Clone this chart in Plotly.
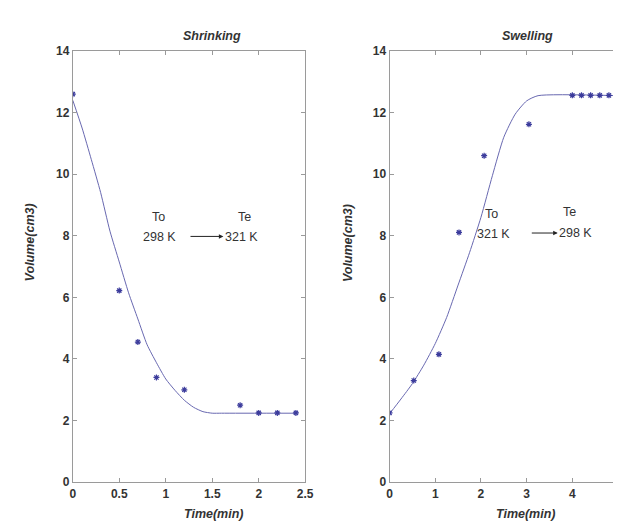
import plotly.graph_objects as go

# Shrinking: experimental points and model curve
shrink_t = [0, 0.5, 0.7, 0.9, 1.2, 1.8, 2.0, 2.2, 2.4]
shrink_v = [12.6, 6.22, 4.55, 3.4, 3.0, 2.5, 2.25, 2.25, 2.25]
shrink_curve_t = [0, 0.1, 0.2, 0.3, 0.4, 0.5, 0.6, 0.7, 0.8, 0.9, 1.0, 1.1, 1.2, 1.3, 1.4, 1.5, 1.6, 2.4]
shrink_curve_v = [12.4, 11.5, 10.47, 9.4, 8.15, 7.15, 6.15, 5.3, 4.46, 3.88, 3.35, 2.98, 2.66, 2.43, 2.29, 2.24, 2.24, 2.24]

# Swelling: experimental points and model curve
swell_t = [0, 0.53, 1.08, 1.52, 2.07, 3.05, 4.0, 4.2, 4.4, 4.6, 4.8]
swell_v = [2.25, 3.3, 4.15, 8.11, 10.6, 11.62, 12.56, 12.56, 12.56, 12.56, 12.56]
swell_curve_t = [0, 0.25, 0.5, 0.75, 1.0, 1.25, 1.5, 1.75, 2.0, 2.25, 2.5, 2.75, 3.0, 3.25, 5.0]
swell_curve_v = [2.22, 2.7, 3.2, 3.8, 4.5, 5.35, 6.4, 7.45, 8.6, 9.95, 11.2, 11.95, 12.38, 12.55, 12.55]

x1_ticks = [0, 0.5, 1, 1.5, 2, 2.5]
x1_labels = ["0", "0.5", "1", "1.5", "2", "2.5"]
x2_ticks = [0, 1, 2, 3, 4, 5]
x2_labels = ["0", "1", "2", "3", "4", "5"]
y_ticks = [0, 2, 4, 6, 8, 10, 12, 14]
y_labels = ["0", "2", "4", "6", "8", "10", "12", "14"]

W, H = 621, 524
line_col = "#6868b0"
mark_col = "#3c3c9c"
axis_col = "#9a9a9a"
text_col = "#333333"
FONT = "Liberation Sans, Arial, sans-serif"

mk = dict(symbol="asterisk-open", size=5, color=mark_col, line=dict(color=mark_col, width=1.2))

fig = go.Figure()
fig.add_trace(go.Scatter(x=shrink_curve_t, y=shrink_curve_v, mode="lines",
                         line=dict(color=line_col, width=1, shape="spline", smoothing=0.6),
                         xaxis="x", yaxis="y", showlegend=False))
fig.add_trace(go.Scatter(x=shrink_t, y=shrink_v, mode="markers", marker=mk,
                         xaxis="x", yaxis="y", showlegend=False))
fig.add_trace(go.Scatter(x=swell_curve_t, y=swell_curve_v, mode="lines",
                         line=dict(color=line_col, width=1, shape="spline", smoothing=0.6),
                         xaxis="x2", yaxis="y2", showlegend=False))
fig.add_trace(go.Scatter(x=swell_t, y=swell_v, mode="markers", marker=mk,
                         xaxis="x2", yaxis="y2", showlegend=False))

def px_x(p):
    return p / W

def px_y(p):
    return 1 - p / H

ydom = [px_y(480), px_y(37)]
common = dict(showline=True, linecolor=axis_col, linewidth=1, mirror="ticks", ticks="inside",
              ticklen=4, tickcolor=axis_col, showgrid=False, zeroline=False,
              tickfont=dict(family=FONT, size=12, color=text_col, weight="bold"))

fig.update_layout(
    width=W, height=H, margin=dict(l=0, r=0, t=0, b=0),
    plot_bgcolor="white", paper_bgcolor="white",
    xaxis=dict(domain=[px_x(63), px_x(300)], range=[0, 2.5], tickvals=x1_ticks, ticktext=x1_labels,
               anchor="y", **common),
    yaxis=dict(domain=ydom, range=[0, 14], tickvals=y_ticks, ticktext=y_labels, anchor="x", **common),
    xaxis2=dict(domain=[px_x(386), px_x(619)], range=[0, 5], tickvals=x2_ticks, ticktext=x2_labels,
                anchor="y2", **common),
    yaxis2=dict(domain=ydom, range=[0, 14], tickvals=y_ticks, ticktext=y_labels, anchor="x2", **common),
)

ann = []
tf = dict(family=FONT, size=12.5, color=text_col)
itf = dict(family=FONT, size=12.5, color=text_col)
# titles and axis titles (paper coordinates)
for txt, x, y, ang in [("<b><i>Shrinking</i></b>", 205, 22, 0), ("<b><i>Swelling</i></b>", 527, 22, 0),
                       ("<b><i>Time(min)</i></b>", 207, 513, 0), ("<b><i>Time(min)</i></b>", 525, 513, 0),
                       ("<b><i>Volume(cm3)</i></b>", 19, 234, -90), ("<b><i>Volume(cm3)</i></b>", 343, 234, -90)]:
    ann.append(dict(text=txt, x=px_x(x), y=px_y(y), xref="paper", yref="paper", showarrow=False,
                    textangle=ang, font=itf, xanchor="center", yanchor="middle"))

# text labels in data coordinates
for txt, x, y, xr, yr in [("To", 0.92, 8.6, "x", "y"), ("298 K", 0.936, 7.96, "x", "y"),
                          ("Te", 1.85, 8.6, "x", "y"), ("321 K", 1.82, 7.96, "x", "y"),
                          ("To", 2.23, 8.72, "x2", "y2"), ("321 K", 2.28, 8.07, "x2", "y2"),
                          ("Te", 3.94, 8.77, "x2", "y2"), ("298 K", 4.07, 8.09, "x2", "y2")]:
    ann.append(dict(text=txt, x=x, y=y, xref=xr, yref=yr, showarrow=False, font=tf,
                    xanchor="center", yanchor="middle"))

# arrows
for x0, x1, y, xr, yr in [(1.25, 1.62, 7.98, "x", "y"), (3.08, 3.68, 8.09, "x2", "y2")]:
    ann.append(dict(x=x1, y=y, ax=x0, ay=y, xref=xr, yref=yr, axref=xr, ayref=yr, text="",
                    showarrow=True, arrowhead=2, arrowsize=0.9, arrowwidth=1, arrowcolor="#222222"))

fig.update_layout(annotations=ann)
fig.write_html("out.html")
